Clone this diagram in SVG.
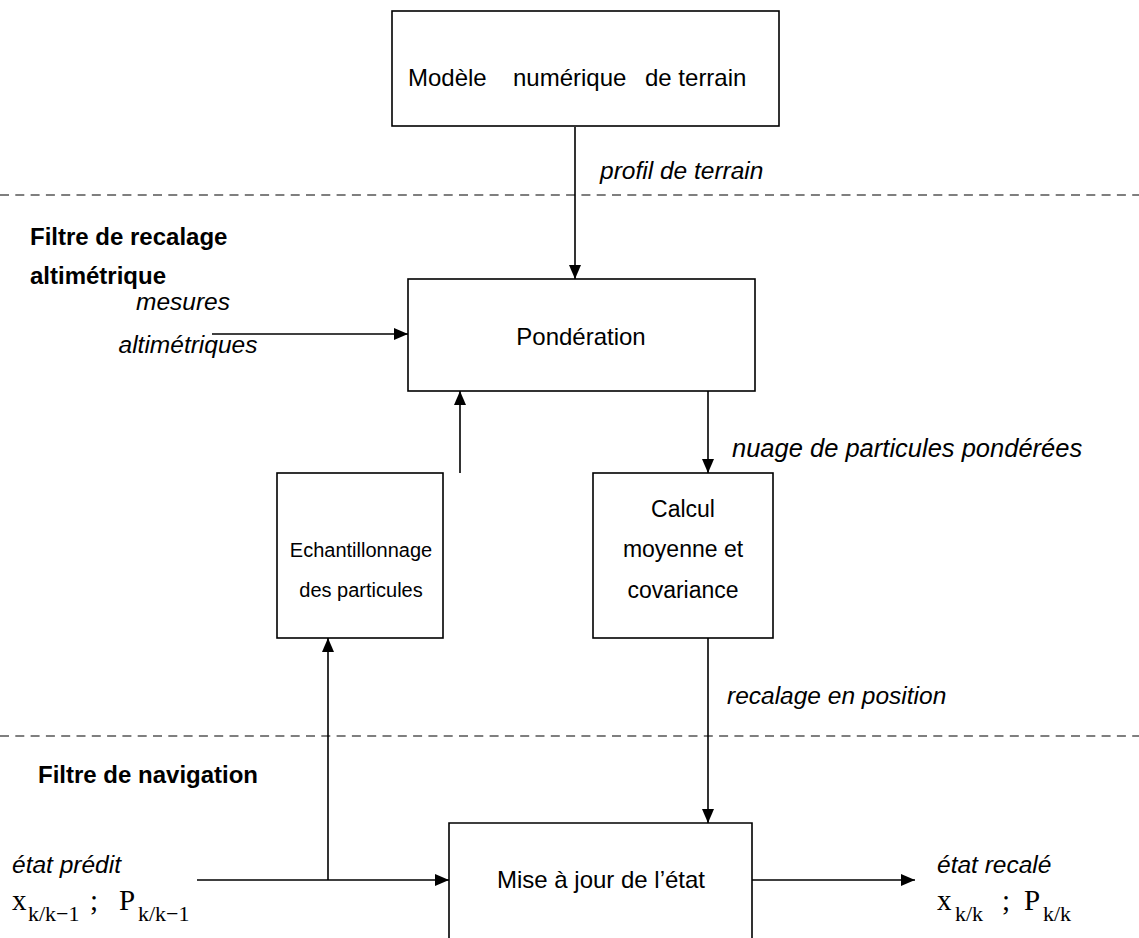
<svg xmlns="http://www.w3.org/2000/svg" width="1139" height="938" viewBox="0 0 1139 938">
<style>
.box{fill:#fff;stroke:#000;stroke-width:1.6}
.ln{fill:none;stroke:#000;stroke-width:1.6}
.dash{fill:none;stroke:#555;stroke-width:1.3;stroke-dasharray:9 6.3}
.t{font-family:"Liberation Sans",Arial,sans-serif;font-size:24px;fill:#000}
.i{font-style:italic;font-size:24.5px}
.b{font-weight:bold}
.m{font-family:"Liberation Serif","Times New Roman",serif;font-size:29px;fill:#000}
.s{font-size:22px}
</style>
<defs>
<marker id="ah" markerUnits="userSpaceOnUse" markerWidth="14" markerHeight="12" viewBox="0 0 14 12" refX="14" refY="6" orient="auto">
<path d="M0,0 L14,6 L0,12 Z" fill="#000"/>
</marker>
</defs>
<g id="separators">
<line class="dash" x1="0" y1="195" x2="1139" y2="195"/>
<line class="dash" x1="0" y1="736" x2="1139" y2="736"/>
</g>
<g id="connectors">
<line class="ln" x1="575" y1="127" x2="575" y2="279" marker-end="url(#ah)"/>
<line class="ln" x1="212" y1="334" x2="408" y2="334" marker-end="url(#ah)"/>
<line class="ln" x1="460" y1="473" x2="460" y2="391" marker-end="url(#ah)"/>
<line class="ln" x1="708" y1="391" x2="708" y2="473" marker-end="url(#ah)"/>
<line class="ln" x1="708" y1="638" x2="708" y2="823" marker-end="url(#ah)"/>
<line class="ln" x1="197" y1="880" x2="449" y2="880" marker-end="url(#ah)"/>
<line class="ln" x1="328" y1="880" x2="328" y2="638" marker-end="url(#ah)"/>
<line class="ln" x1="752" y1="880" x2="915" y2="880" marker-end="url(#ah)"/>
</g>
<g id="mnt">
<rect class="box" x="392" y="11" width="387" height="115"/>
<text class="t" y="86"><tspan x="408">Modèle</tspan><tspan x="513">numérique</tspan><tspan x="645">de terrain</tspan></text>
</g>
<g id="label-profil">
<text class="t i" x="600" y="179">profil de terrain</text>
</g>
<g id="label-filtre-recalage">
<text class="t b" x="30" y="245">Filtre de recalage</text>
<text class="t b" x="30" y="284">altimétrique</text>
</g>
<g id="label-mesures">
<text class="t i" x="183" y="310" text-anchor="middle">mesures</text>
<text class="t i" x="188" y="353" text-anchor="middle">altimétriques</text>
</g>
<g id="ponderation">
<rect class="box" x="408" y="279" width="347" height="112"/>
<text class="t" x="581" y="345" text-anchor="middle">Pondération</text>
</g>
<g id="label-nuage">
<text class="t i" x="732" y="457" style="font-size:25.5px">nuage de particules pondérées</text>
</g>
<g id="echantillonnage">
<rect class="box" x="277" y="473" width="166" height="165"/>
<text class="t" x="361" y="557" text-anchor="middle" style="font-size:20px">Echantillonnage</text>
<text class="t" x="361" y="597" text-anchor="middle" style="font-size:20px">des particules</text>
</g>
<g id="calcul">
<rect class="box" x="593" y="473" width="180" height="165"/>
<text class="t" x="683" y="517" text-anchor="middle" style="font-size:23px">Calcul</text>
<text class="t" x="683" y="557" text-anchor="middle" style="font-size:23px">moyenne et</text>
<text class="t" x="683" y="598" text-anchor="middle" style="font-size:23px">covariance</text>
</g>
<g id="label-recalage">
<text class="t i" x="727" y="704">recalage en position</text>
</g>
<g id="label-filtre-navigation">
<text class="t b" x="38" y="783">Filtre de navigation</text>
</g>
<g id="miseajour">
<path class="ln" d="M449,940 L449,823 L752,823 L752,940"/>
<text class="t" x="601" y="888" text-anchor="middle">Mise à jour de l’état</text>
</g>
<g id="label-etat-predit">
<text class="t i" x="12" y="873">état prédit</text>
<text class="m" y="910"><tspan x="12">x</tspan><tspan x="28" y="921" class="s">k/k−1</tspan><tspan x="90" y="910">;</tspan><tspan x="119" y="910">P</tspan><tspan x="138" y="921" class="s">k/k−1</tspan></text>
</g>
<g id="label-etat-recale">
<text class="t i" x="937" y="873">état recalé</text>
<text class="m" y="910"><tspan x="937">x</tspan><tspan x="955" y="921" class="s">k/k</tspan><tspan x="1002" y="910">;</tspan><tspan x="1024" y="910">P</tspan><tspan x="1043" y="921" class="s">k/k</tspan></text>
</g>
</svg>
